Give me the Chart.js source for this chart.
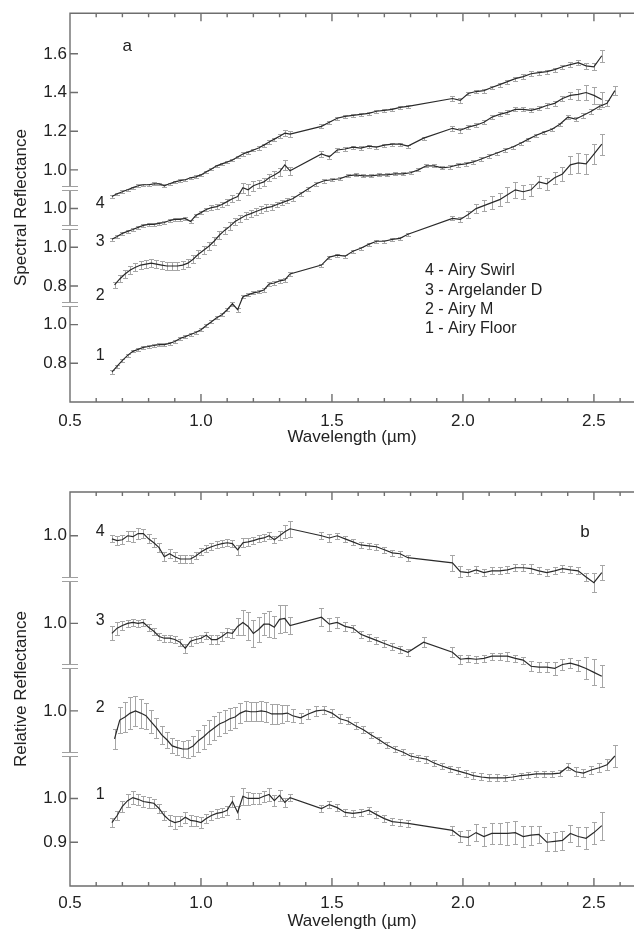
<!DOCTYPE html>
<html>
<head>
<meta charset="utf-8">
<script src="https://cdn.jsdelivr.net/npm/chart.js@4.4.1/dist/chart.umd.min.js"></script>
<style>
  body { margin: 0; background: #fff; width: 634px; height: 932px; overflow: hidden; }
  canvas { display: block; }
</style>
</head>
<body>
<canvas id="chart-a" width="634" height="460"></canvas>
<canvas id="chart-b" width="634" height="472"></canvas>
<script>
// Wavelength grid (µm) shared by Airy Floor, Argelander D and Airy Swirl
const wavelengths = [
  0.66, 0.68, 0.70, 0.72, 0.74, 0.76, 0.78, 0.80, 0.82, 0.84,
  0.86, 0.88, 0.90, 0.92, 0.94, 0.96, 0.98, 1.00, 1.02, 1.04,
  1.06, 1.08, 1.10, 1.12, 1.14, 1.16, 1.18, 1.20, 1.22, 1.24,
  1.26, 1.28, 1.30, 1.32, 1.34,
  1.46, 1.49, 1.52, 1.55, 1.58, 1.61, 1.64, 1.67, 1.70, 1.73, 1.76, 1.79,
  1.85,
  1.96, 1.99, 2.02, 2.05, 2.08, 2.11, 2.14, 2.17, 2.20, 2.23,
  2.26, 2.29, 2.32, 2.35, 2.38, 2.41, 2.44, 2.47, 2.50, 2.53
];
// Airy M spectrum has its own continuous grid
const wavelengthsAiryM = [
  0.67, 0.69, 0.71, 0.73, 0.75, 0.77, 0.79, 0.81, 0.83, 0.85,
  0.87, 0.89, 0.91, 0.93, 0.95, 0.97, 0.99, 1.01, 1.03, 1.05,
  1.07, 1.09, 1.11, 1.13, 1.15, 1.17, 1.19, 1.21, 1.23, 1.25,
  1.27, 1.29, 1.31, 1.33, 1.35,
  1.38, 1.41, 1.44, 1.47, 1.50, 1.53, 1.56, 1.59, 1.62, 1.65,
  1.68, 1.71, 1.74, 1.77, 1.80, 1.83, 1.86, 1.89, 1.92, 1.95,
  1.98, 2.01, 2.04, 2.07, 2.10, 2.13, 2.16, 2.19, 2.22, 2.25,
  2.28, 2.31, 2.34, 2.37, 2.40, 2.43, 2.46, 2.49, 2.52, 2.55, 2.58
];

const curveNames = ['Airy Floor', 'Airy M', 'Argelander D', 'Airy Swirl'];

// Panel a - spectral reflectance (each curve on its own offset axis)
const specFloor = [
  0.754, 0.785, 0.815, 0.841, 0.862, 0.872, 0.882, 0.887, 0.892, 0.897,
  0.897, 0.903, 0.913, 0.928, 0.938, 0.949, 0.959, 0.974, 0.995, 1.015,
  1.036, 1.051, 1.077, 1.108, 1.077, 1.144, 1.154, 1.164, 1.169, 1.179,
  1.210, 1.215, 1.226, 1.231, 1.262,
  1.308, 1.349, 1.359, 1.354, 1.379, 1.395, 1.415, 1.431, 1.431, 1.441, 1.446, 1.467,
  null,
  1.549, 1.544, 1.569, 1.600, 1.615, 1.631, 1.646, 1.672, 1.697, 1.687,
  1.697, 1.738, 1.728, 1.759, 1.779, 1.826, 1.836, 1.831, 1.882, 1.933
];
const specFloorErr = [
  0.010, 0.008, 0.007, 0.006, 0.006, 0.006, 0.006, 0.006, 0.006, 0.006,
  0.006, 0.006, 0.006, 0.006, 0.006, 0.006, 0.007, 0.007, 0.007, 0.007,
  0.007, 0.007, 0.008, 0.010, 0.010, 0.008, 0.008, 0.008, 0.008, 0.008,
  0.010, 0.010, 0.012, 0.012, 0.010,
  0.008, 0.008, 0.008, 0.008, 0.008, 0.008, 0.008, 0.008, 0.008, 0.008, 0.008, 0.008,
  0,
  0.010, 0.012, 0.020, 0.025, 0.030, 0.035, 0.035, 0.040, 0.040, 0.035,
  0.030, 0.030, 0.030, 0.030, 0.035, 0.045, 0.050, 0.050, 0.050, 0.055
];
const specM = [
  0.805, 0.836, 0.862, 0.882, 0.897, 0.908, 0.913, 0.918, 0.913, 0.908,
  0.903, 0.903, 0.903, 0.908, 0.918, 0.938, 0.964, 0.985, 1.005, 1.031,
  1.062, 1.087, 1.108, 1.133, 1.149, 1.164, 1.174, 1.185, 1.195, 1.205,
  1.210, 1.221, 1.231, 1.241, 1.251,
  1.277, 1.303, 1.328, 1.344, 1.349, 1.354, 1.369, 1.374, 1.369, 1.369,
  1.374, 1.374, 1.379, 1.379, 1.385, 1.400, 1.421, 1.421, 1.410, 1.415,
  1.426, 1.431, 1.441, 1.456, 1.472, 1.487, 1.503, 1.518, 1.538, 1.559,
  1.579, 1.595, 1.610, 1.636, 1.672, 1.662, 1.682, 1.703, 1.728, 1.744, 1.810
];
const specMErr = [
  0.015, 0.018, 0.020, 0.020, 0.020, 0.020, 0.020, 0.020, 0.020, 0.020,
  0.020, 0.020, 0.020, 0.020, 0.020, 0.020, 0.020, 0.020, 0.020, 0.020,
  0.020, 0.020, 0.020, 0.020, 0.020, 0.020, 0.020, 0.018, 0.018, 0.018,
  0.016, 0.015, 0.014, 0.012, 0.012,
  0.010, 0.010, 0.010, 0.010, 0.008, 0.008, 0.008, 0.008, 0.008, 0.008,
  0.008, 0.008, 0.008, 0.008, 0.008, 0.008, 0.008, 0.008, 0.008, 0.008,
  0.010, 0.010, 0.010, 0.010, 0.008, 0.008, 0.008, 0.008, 0.008, 0.008,
  0.008, 0.008, 0.008, 0.008, 0.010, 0.010, 0.012, 0.012, 0.012, 0.015, 0.025
];
const specArgD = [
  0.841, 0.856, 0.872, 0.882, 0.892, 0.903, 0.913, 0.918, 0.918, 0.923,
  0.928, 0.938, 0.944, 0.944, 0.949, 0.933, 0.964, 0.979, 0.995, 1.005,
  1.010, 1.021, 1.036, 1.051, 1.062, 1.108, 1.097, 1.118, 1.128, 1.138,
  1.159, 1.174, 1.190, 1.226, 1.195,
  1.282, 1.267, 1.303, 1.308, 1.318, 1.313, 1.323, 1.318, 1.328, 1.333, 1.333, 1.323,
  1.364,
  1.415, 1.405, 1.421, 1.431, 1.446, 1.472, 1.487, 1.497, 1.513, 1.513,
  1.508, 1.518, 1.533, 1.544, 1.569, 1.585, 1.590, 1.600, 1.585, 1.564
];
const specArgDErr = [
  0.008, 0.007, 0.007, 0.007, 0.007, 0.007, 0.007, 0.007, 0.007, 0.007,
  0.007, 0.007, 0.007, 0.008, 0.008, 0.008, 0.008, 0.009, 0.010, 0.012,
  0.012, 0.014, 0.015, 0.018, 0.020, 0.025, 0.028, 0.025, 0.022, 0.020,
  0.018, 0.018, 0.020, 0.025, 0.020,
  0.015, 0.012, 0.010, 0.008, 0.008, 0.008, 0.008, 0.008, 0.008, 0.008, 0.008, 0.008,
  0.008,
  0.012, 0.012, 0.010, 0.010, 0.010, 0.010, 0.010, 0.010, 0.010, 0.010,
  0.010, 0.010, 0.012, 0.012, 0.015, 0.020, 0.030, 0.040, 0.045, 0.040
];
const specSwirl = [
  0.862, 0.877, 0.887, 0.897, 0.908, 0.918, 0.923, 0.923, 0.928, 0.928,
  0.918, 0.928, 0.938, 0.944, 0.949, 0.959, 0.964, 0.974, 0.990, 1.005,
  1.021, 1.031, 1.041, 1.051, 1.067, 1.082, 1.092, 1.103, 1.113, 1.128,
  1.144, 1.159, 1.174, 1.190, 1.185,
  1.225, 1.246, 1.267, 1.277, 1.282, 1.287, 1.292, 1.303, 1.308, 1.313, 1.323, 1.328,
  null,
  1.369, 1.359, 1.395, 1.405, 1.410, 1.426, 1.441, 1.456, 1.472, 1.482,
  1.497, 1.503, 1.508, 1.518, 1.533, 1.544, 1.554, 1.538, 1.533, 1.590
];
const specSwirlErr = [
  0.006, 0.006, 0.007, 0.006, 0.006, 0.007, 0.006, 0.006, 0.007, 0.006,
  0.007, 0.006, 0.006, 0.007, 0.006, 0.006, 0.007, 0.006, 0.006, 0.007,
  0.006, 0.006, 0.007, 0.006, 0.007, 0.008, 0.008, 0.007, 0.008, 0.008,
  0.009, 0.008, 0.010, 0.015, 0.015,
  0.010, 0.009, 0.008, 0.007, 0.007, 0.007, 0.007, 0.007, 0.007, 0.007, 0.007, 0.007,
  0,
  0.012, 0.014, 0.010, 0.010, 0.010, 0.010, 0.010, 0.010, 0.010, 0.012,
  0.012, 0.010, 0.010, 0.010, 0.010, 0.012, 0.012, 0.015, 0.018, 0.030
];

// Panel b - relative reflectance (continuum removed)
const relFloor = [
  0.945, 0.961, 0.982, 0.995, 1.002, 0.998, 0.993, 0.991, 0.989, 0.977,
  0.961, 0.950, 0.945, 0.948, 0.957, 0.950, 0.948, 0.945, 0.954, 0.961,
  0.966, 0.968, 0.973, 0.993, 0.968, 1.005, 1.000, 1.000, 1.000, 1.005,
  1.009, 0.995, 1.007, 0.991, 1.002,
  0.977, 0.986, 0.979, 0.968, 0.966, 0.968, 0.973, 0.963, 0.954, 0.947, 0.945, 0.943,
  null,
  0.927, 0.913, 0.911, 0.922, 0.913, 0.920, 0.920, 0.920, 0.922, 0.913,
  0.916, 0.918, 0.900, 0.902, 0.904, 0.920, 0.913, 0.909, 0.922, 0.938
];
const relFloorErr = [
  0.010, 0.010, 0.012, 0.015, 0.015, 0.012, 0.012, 0.012, 0.010, 0.010,
  0.010, 0.012, 0.015, 0.012, 0.012, 0.012, 0.012, 0.012, 0.010, 0.010,
  0.010, 0.010, 0.010, 0.012, 0.015, 0.020, 0.015, 0.012, 0.012, 0.012,
  0.015, 0.012, 0.012, 0.010, 0.008,
  0.008, 0.008, 0.008, 0.008, 0.008, 0.008, 0.008, 0.008, 0.008, 0.008, 0.008, 0.008,
  0,
  0.010, 0.012, 0.018, 0.020, 0.022, 0.023, 0.025, 0.027, 0.027, 0.025,
  0.022, 0.020, 0.020, 0.022, 0.022, 0.020, 0.022, 0.025, 0.025, 0.032
];
const relM = [
  0.936, 0.979, 0.986, 0.995, 1.000, 0.995, 0.989, 0.975, 0.961, 0.945,
  0.934, 0.920, 0.916, 0.913, 0.913, 0.920, 0.932, 0.941, 0.952, 0.961,
  0.970, 0.975, 0.982, 0.986, 0.995, 1.000, 0.998, 0.998, 1.000, 0.998,
  0.993, 0.993, 0.993, 0.995, 0.989,
  0.984, 0.993, 1.000, 1.002, 0.995, 0.982, 0.977, 0.966, 0.957, 0.945,
  0.934, 0.922, 0.913, 0.906, 0.897, 0.893, 0.890, 0.881, 0.874, 0.868,
  0.863, 0.858, 0.852, 0.849, 0.847, 0.847, 0.847, 0.849, 0.852, 0.854,
  0.856, 0.856, 0.856, 0.858, 0.872, 0.861, 0.858, 0.865, 0.870, 0.877, 0.897
];
const relMErr = [
  0.023, 0.030, 0.035, 0.036, 0.035, 0.033, 0.030, 0.026, 0.023, 0.020,
  0.018, 0.017, 0.017, 0.018, 0.020, 0.022, 0.025, 0.027, 0.028, 0.028,
  0.027, 0.026, 0.025, 0.024, 0.023, 0.022, 0.022, 0.022, 0.023, 0.023,
  0.022, 0.022, 0.020, 0.018, 0.015,
  0.012, 0.012, 0.012, 0.010, 0.010, 0.010, 0.008, 0.008, 0.008, 0.007,
  0.007, 0.007, 0.007, 0.007, 0.007, 0.007, 0.008, 0.007, 0.007, 0.007,
  0.008, 0.008, 0.008, 0.008, 0.008, 0.008, 0.007, 0.007, 0.007, 0.007,
  0.007, 0.007, 0.007, 0.007, 0.008, 0.010, 0.010, 0.010, 0.010, 0.012, 0.025
];
const relArgD = [
  0.977, 0.989, 0.995, 1.000, 1.002, 1.000, 1.002, 0.991, 0.982, 0.970,
  0.966, 0.966, 0.963, 0.957, 0.943, 0.959, 0.963, 0.966, 0.973, 0.963,
  0.963, 0.970, 0.979, 0.977, 0.993, 1.002, 0.993, 0.977, 0.986, 0.998,
  0.998, 0.991, 1.009, 1.011, 0.995,
  1.014, 0.998, 1.002, 0.993, 0.989, 0.975, 0.968, 0.961, 0.954, 0.947, 0.941, 0.934,
  0.957,
  0.934, 0.918, 0.920, 0.918, 0.920, 0.925, 0.925, 0.925, 0.920, 0.916,
  0.902, 0.900, 0.900, 0.897, 0.906, 0.909, 0.904, 0.897, 0.888, 0.879
];
const relArgDErr = [
  0.016, 0.015, 0.010, 0.008, 0.008, 0.008, 0.008, 0.008, 0.008, 0.008,
  0.008, 0.008, 0.008, 0.008, 0.010, 0.010, 0.008, 0.008, 0.008, 0.010,
  0.010, 0.010, 0.010, 0.010, 0.020, 0.028, 0.032, 0.030, 0.028, 0.025,
  0.030, 0.025, 0.032, 0.030, 0.020,
  0.020, 0.015, 0.012, 0.010, 0.008, 0.008, 0.008, 0.008, 0.008, 0.008, 0.008, 0.008,
  0.012,
  0.012, 0.010, 0.008, 0.008, 0.008, 0.008, 0.008, 0.010, 0.008, 0.008,
  0.012, 0.012, 0.012, 0.015, 0.012, 0.012, 0.012, 0.025, 0.030, 0.025
];
const relSwirl = [
  0.993, 0.989, 0.991, 1.000, 0.998, 1.005, 1.005, 0.993, 0.984, 0.973,
  0.952, 0.959, 0.952, 0.947, 0.947, 0.947, 0.954, 0.963, 0.970, 0.975,
  0.979, 0.982, 0.984, 0.982, 0.968, 0.984, 0.986, 0.989, 0.993, 0.995,
  1.000, 0.991, 1.000, 1.009, 1.016,
  1.000, 0.995, 1.000, 0.993, 0.986, 0.979, 0.977, 0.975, 0.968, 0.961, 0.959, 0.950,
  null,
  0.938, 0.918, 0.916, 0.922, 0.916, 0.920, 0.920, 0.922, 0.927, 0.927,
  0.925, 0.920, 0.916, 0.920, 0.925, 0.922, 0.920, 0.906, 0.893, 0.916
];
const relSwirlErr = [
  0.008, 0.010, 0.010, 0.012, 0.012, 0.012, 0.010, 0.010, 0.010, 0.010,
  0.010, 0.010, 0.010, 0.010, 0.010, 0.010, 0.008, 0.008, 0.008, 0.008,
  0.008, 0.008, 0.008, 0.008, 0.012, 0.010, 0.010, 0.008, 0.008, 0.008,
  0.008, 0.008, 0.010, 0.015, 0.018,
  0.008, 0.010, 0.007, 0.007, 0.007, 0.007, 0.007, 0.007, 0.007, 0.007, 0.007, 0.007,
  0,
  0.018, 0.012, 0.008, 0.008, 0.008, 0.008, 0.008, 0.008, 0.008, 0.008,
  0.010, 0.008, 0.008, 0.008, 0.008, 0.008, 0.008, 0.010, 0.022, 0.018
];

// Vertical offsets that stack the curves, and the broken y axis labels
const offsetsA = [0, 0.4, 0.6, 0.8];
const offsetsB = [0, 0.2, 0.4, 0.6];
const yTicksA = [0.8, 1.0, 1.2, 1.4, 1.6, 1.8, 2.0, 2.2, 2.4];
const yTickLabelsA = ['0.8', '1.0', '0.8', '1.0', '1.0', '1.0', '1.2', '1.4', '1.6'];
const yTicksB = [0.9, 1.0, 1.2, 1.4, 1.6];
const yTickLabelsB = ['0.9', '1.0', '1.0', '1.0', '1.0'];
const breaksA = [1.1, 1.5, 1.7];
const breaksB = [1.1, 1.3, 1.5];
const xTicks = [0.5, 1.0, 1.5, 2.0, 2.5];

const fontFamily = '"Liberation Sans", Arial, Helvetica, sans-serif';
const textColor = '#222';
const frameColor = '#6e6e6e';
const lineColor = '#2a2a2a';
const errColor = '#a6a6a6';

Chart.defaults.font.family = fontFamily;

function makeDecor(p) {
  return {
    id: 'decor',
    // error bars go under the spectra
    beforeDatasetsDraw(chart) {
      const { ctx, scales: { x, y } } = chart;
      ctx.save();
      ctx.strokeStyle = errColor;
      ctx.lineWidth = 1;
      chart.data.datasets.forEach(ds => {
        ds.data.forEach((pt, i) => {
          const e = ds.errors[i];
          if (pt.y === null || !e) return;
          const px = Math.round(x.getPixelForValue(pt.x)) + 0.5;
          const top = Math.round(y.getPixelForValue(pt.y + e)) + 0.5;
          const bot = Math.round(y.getPixelForValue(pt.y - e)) + 0.5;
          ctx.beginPath();
          ctx.moveTo(px, top); ctx.lineTo(px, bot);
          ctx.moveTo(px - 2.5, top); ctx.lineTo(px + 2.5, top);
          ctx.moveTo(px - 2.5, bot); ctx.lineTo(px + 2.5, bot);
          ctx.stroke();
        });
      });
      ctx.restore();
    },
    afterDatasetsDraw(chart) {
      const { ctx, chartArea: a, scales: { x, y } } = chart;
      ctx.save();
      // frame: left, top and bottom axes only
      ctx.strokeStyle = frameColor;
      ctx.lineWidth = 1.4;
      ctx.beginPath();
      ctx.moveTo(a.right, a.top); ctx.lineTo(a.left, a.top);
      ctx.lineTo(a.left, a.bottom); ctx.lineTo(a.right, a.bottom);
      // inward ticks every 0.1 µm, longer on labelled values
      for (let k = 5; k <= 26; k++) {
        const px = x.getPixelForValue(k / 10);
        const len = k % 5 === 0 ? 8 : 4;
        ctx.moveTo(px, a.bottom); ctx.lineTo(px, a.bottom - len);
        ctx.moveTo(px, a.top); ctx.lineTo(px, a.top + len);
      }
      p.yTicks.forEach(v => {
        const py = y.getPixelForValue(v);
        ctx.moveTo(a.left, py); ctx.lineTo(a.left + 8, py);
      });
      ctx.stroke();

      // axis break marks
      p.breaks.forEach(v => {
        const py = Math.round(y.getPixelForValue(v));
        ctx.fillStyle = '#fff';
        ctx.fillRect(a.left - 2, py - 2, 4, 4);
        ctx.strokeStyle = '#a0a0a0';
        ctx.lineWidth = 1;
        ctx.beginPath();
        ctx.moveTo(a.left - 8, py - 2.5); ctx.lineTo(a.left + 8, py - 2.5);
        ctx.moveTo(a.left - 8, py + 1.5); ctx.lineTo(a.left + 8, py + 1.5);
        ctx.stroke();
      });

      // text annotations placed in data coordinates
      ctx.fillStyle = textColor;
      ctx.textBaseline = 'middle';
      p.notes.forEach(n => {
        ctx.font = n.size + 'px ' + fontFamily;
        ctx.textAlign = n.align || 'center';
        ctx.fillText(n.text, x.getPixelForValue(n.x), y.getPixelForValue(n.y));
      });
      ctx.restore();
    }
  };
}

function makeChart(id, p) {
  const datasets = p.series.map((s, k) => ({
    data: s.wl.map((w, i) => ({ x: w, y: s.vals[i] === null ? null : s.vals[i] + p.offsets[k] })),
    errors: s.errs,
    borderColor: lineColor,
    borderWidth: 1.2,
    pointRadius: 0,
    tension: 0,
    spanGaps: true,
    fill: false
  }));

  return new Chart(document.getElementById(id), {
    type: 'line',
    data: { datasets: datasets },
    options: {
      responsive: false,
      animation: false,
      devicePixelRatio: 1,
      layout: { padding: { top: p.padTop, right: 0, left: 0, bottom: 0 } },
      plugins: { legend: { display: false }, tooltip: { enabled: false } },
      scales: {
        x: {
          type: 'linear',
          min: 0.5,
          max: 2.653,
          afterFit: s => { s.height = p.xHeight; },
          afterBuildTicks: s => { s.ticks = xTicks.map(v => ({ value: v })); },
          grid: { display: false, drawTicks: false },
          border: { display: false },
          ticks: {
            padding: p.xLabelPad, color: textColor, font: { size: 17 },
            maxRotation: 0, autoSkip: false,
            callback: v => v.toFixed(1)
          },
          title: {
            display: true, text: 'Wavelength (\u00b5m)', color: textColor,
            font: { size: 17 }, padding: { top: 0, bottom: p.xTitlePad }
          }
        },
        y: {
          type: 'linear',
          min: p.yMin,
          max: p.yMax,
          afterFit: s => { s.width = 70; },
          afterBuildTicks: s => { s.ticks = p.yTicks.map(v => ({ value: v })); },
          grid: { display: false, drawTicks: false },
          border: { display: false },
          ticks: {
            padding: 3, color: textColor, font: { size: 17 }, autoSkip: false,
            callback: (v, i) => p.yTickLabels[i]
          },
          title: {
            display: true, text: p.yTitle, color: textColor,
            font: { size: 17 }, padding: { top: 11, bottom: 0 }
          }
        }
      }
    },
    plugins: [makeDecor(p)]
  });
}

// legend block in panel a, top line is curve 4
const legendLines = curveNames.map((n, i) => (i + 1) + ' - ' + n).reverse();

makeChart('chart-a', {
  yMin: 0.6, yMax: 2.61, padTop: 10, xHeight: 58, xLabelPad: 9, xTitlePad: 12,
  yTitle: 'Spectral Reflectance',
  offsets: offsetsA, yTicks: yTicksA, yTickLabels: yTickLabelsA, breaks: breaksA,
  series: [
    { wl: wavelengths, vals: specFloor, errs: specFloorErr },
    { wl: wavelengthsAiryM, vals: specM, errs: specMErr },
    { wl: wavelengths, vals: specArgD, errs: specArgDErr },
    { wl: wavelengths, vals: specSwirl, errs: specSwirlErr }
  ],
  notes: [
    { text: 'a', x: 0.718, y: 2.44, size: 17 },
    { text: '4', x: 0.615, y: 1.626, size: 16 },
    { text: '3', x: 0.615, y: 1.431, size: 16 },
    { text: '2', x: 0.615, y: 1.149, size: 16 },
    { text: '1', x: 0.615, y: 0.841, size: 16 }
  ].concat(legendLines.map((t, k) => ({ text: t, x: 1.855, y: 1.277 - 0.1 * k, size: 16, align: 'left' })))
});

makeChart('chart-b', {
  yMin: 0.8, yMax: 1.70, padTop: 32, xHeight: 46, xLabelPad: 7, xTitlePad: 0,
  yTitle: 'Relative Reflectance',
  offsets: offsetsB, yTicks: yTicksB, yTickLabels: yTickLabelsB, breaks: breaksB,
  series: [
    { wl: wavelengths, vals: relFloor, errs: relFloorErr },
    { wl: wavelengthsAiryM, vals: relM, errs: relMErr },
    { wl: wavelengths, vals: relArgD, errs: relArgDErr },
    { wl: wavelengths, vals: relSwirl, errs: relSwirlErr }
  ],
  notes: [
    { text: 'b', x: 2.466, y: 1.607, size: 17 },
    { text: '4', x: 0.615, y: 1.61, size: 16 },
    { text: '3', x: 0.615, y: 1.406, size: 16 },
    { text: '2', x: 0.615, y: 1.208, size: 16 },
    { text: '1', x: 0.615, y: 1.009, size: 16 }
  ]
});
</script>
</body>
</html>
